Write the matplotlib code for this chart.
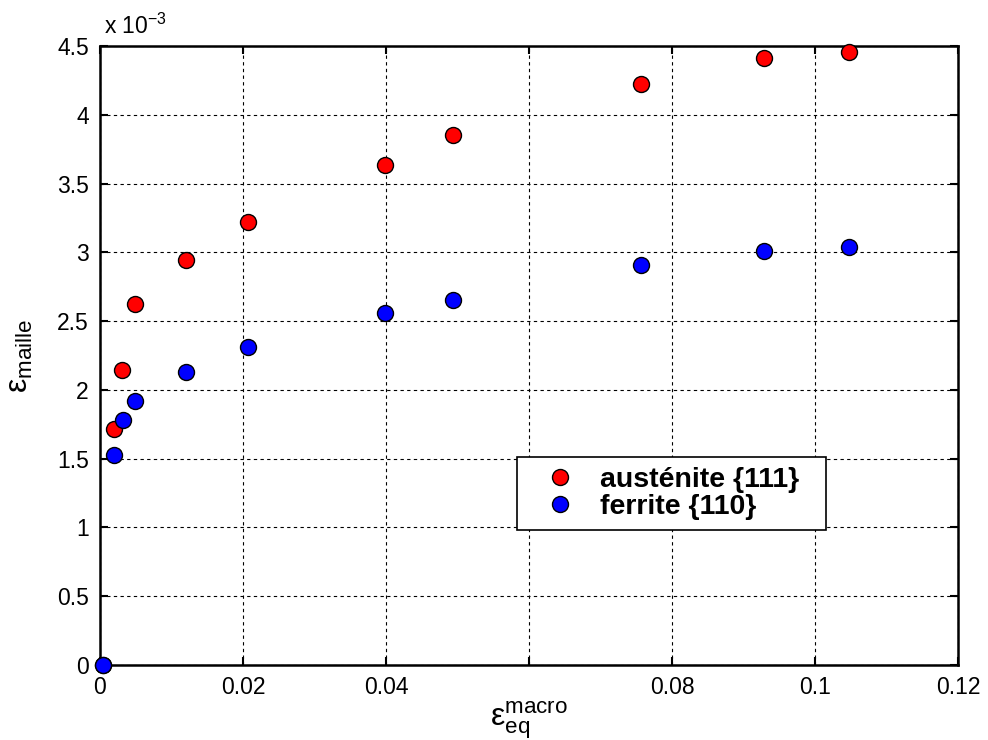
import matplotlib
matplotlib.use("Agg")
import matplotlib.pyplot as plt

plt.rcParams['font.family'] = ['Liberation Sans', 'DejaVu Sans']
plt.rcParams['mathtext.fontset'] = 'custom'
plt.rcParams['mathtext.rm'] = 'Liberation Sans'
plt.rcParams['mathtext.it'] = 'Liberation Sans'
plt.rcParams['mathtext.bf'] = 'Liberation Sans:bold'

# data (strain values; y in units of 1e-3)
eps_macro_aus = [0.0004, 0.0020, 0.0031, 0.0049, 0.0120, 0.0207, 0.0399, 0.0494, 0.0756, 0.0929, 0.1048]
eps_maille_aus = [0.0, 1.715, 2.142, 2.625, 2.943, 3.219, 3.634, 3.855, 4.226, 4.413, 4.456]
eps_macro_fer = [0.0004, 0.0020, 0.0032, 0.0049, 0.0120, 0.0207, 0.0399, 0.0494, 0.0756, 0.0929, 0.1048]
eps_maille_fer = [0.0, 1.526, 1.783, 1.921, 2.133, 2.309, 2.560, 2.657, 2.909, 3.011, 3.042]

xticks = [0, 0.02, 0.04, 0.06, 0.08, 0.10, 0.12]
xticklabels = ['0', '0.02', '0.04', '', '0.08', '0.1', '0.12']
yticks = [0, 0.5, 1, 1.5, 2, 2.5, 3, 3.5, 4, 4.5]
yticklabels = ['0', '0.5', '1', '1.5', '2', '2.5', '3', '3.5', '4', '4.5']

fig = plt.figure(figsize=(9.88, 7.4), dpi=100)
ax = fig.add_axes([0.1012, 0.1014, 0.8684, 0.8364])

ax.plot(eps_macro_aus, eps_maille_aus, 'o', color='#ff0000', markeredgecolor='black',
        markeredgewidth=1.0, markersize=11.5, label='austénite {111}', zorder=3, clip_on=False)
ax.plot(eps_macro_fer, eps_maille_fer, 'o', color='#0000ff', markeredgecolor='black',
        markeredgewidth=1.0, markersize=11.5, label='ferrite {110}', zorder=4, clip_on=False)

ax.set_xlim(0, 0.12)
ax.set_ylim(0, 4.5)
ax.set_xticks(xticks)
ax.set_xticklabels(xticklabels)
ax.set_yticks(yticks)
ax.set_yticklabels(yticklabels)

ax.grid(True, color='black', linestyle=(0, (3, 3)), linewidth=0.8)
ax.set_axisbelow(True)
ax.tick_params(direction='in', length=6, width=1.5, top=True, right=True,
               labelsize=16.5, pad=8)
for s in ax.spines.values():
    s.set_linewidth(1.8)

ax.set_xlabel(r'$\mathrm{\varepsilon}_{\mathrm{eq}}^{\mathrm{macro}}$', fontsize=23, labelpad=0)
ax.set_ylabel(r'$\mathrm{\varepsilon}_{\mathrm{maille}}$', fontsize=23, labelpad=16)

ax.text(0.005, 1.012, r'x 10$^{\mathrm{-3}}$', transform=ax.transAxes, fontsize=16.5,
        ha='left', va='bottom')

leg = ax.legend(loc='upper left', bbox_to_anchor=(0.486, 0.22, 0.36, 0.116), mode='expand',
                fancybox=False, edgecolor='black', framealpha=1,
                prop={'weight': 'bold', 'size': 20.5},
                handletextpad=0.28, borderpad=0.35, labelspacing=0.05, handlelength=2.3,
                borderaxespad=0)
leg.get_frame().set_linewidth(1.2)

fig.savefig('out.png', dpi=100)
